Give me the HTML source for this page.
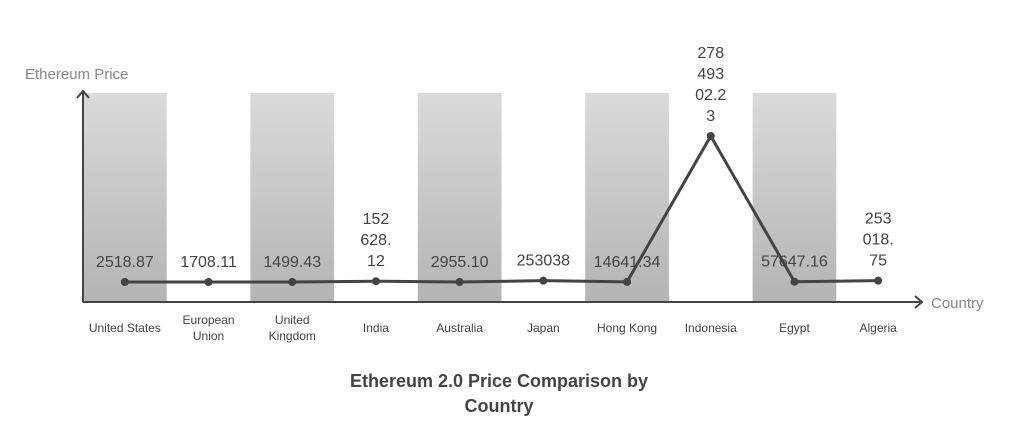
<!DOCTYPE html>
<html><head><meta charset="utf-8"><style>
body{margin:0;background:#fff;}
svg{display:block;font-family:"Liberation Sans",sans-serif;}
</style></head><body>
<svg id="chart" width="1024" height="428" viewBox="0 0 1024 428">
<defs><linearGradient id="bandGrad" x1="0" y1="0" x2="0" y2="1"><stop offset="0" stop-color="#dadada"/><stop offset="1" stop-color="#b4b4b4"/></linearGradient></defs>
<g id="bands"></g>
<line x1="83" y1="302" x2="83" y2="91" stroke="#444" stroke-width="2"/>
<polyline points="77,98 83,91 89,98" fill="none" stroke="#444" stroke-width="2"/>
<line x1="83" y1="302" x2="922" y2="302" stroke="#444" stroke-width="2"/>
<polyline points="915,296 922,302 915,308" fill="none" stroke="#444" stroke-width="2"/>
<text x="25" y="79" font-size="15" fill="#888">Ethereum Price</text>
<text x="931" y="308" font-size="15" fill="#888">Country</text>
<g id="marks"></g>
<text x="499" y="387" font-size="18" font-weight="bold" fill="#444" text-anchor="middle"><tspan x="499">Ethereum 2.0 Price Comparison by</tspan><tspan x="499" dy="25">Country</tspan></text>
</svg>
<script>
const categories=[["United States"],["European","Union"],["United","Kingdom"],["India"],["Australia"],["Japan"],["Hong Kong"],["Indonesia"],["Egypt"],["Algeria"]];
const values=[2518.87,1708.11,1499.43,152628.12,2955.10,253038,14641.34,27849302.23,57647.16,253018.75];
const valueLabels=["2518.87","1708.11","1499.43","152628.12","2955.10","253038","14641.34","27849302.23","57647.16","253018.75"];
const NS="http://www.w3.org/2000/svg";
const x0=83,step=83.7,yMax=27849302.23;
function xPos(i){return x0+step*(i+0.5);}
function yPos(v){return 282-v/yMax*146;}
const bands=document.getElementById('bands'),marks=document.getElementById('marks');
function mk(t,a,p){const e=document.createElementNS(NS,t);for(const k in a)e.setAttribute(k,a[k]);p.appendChild(e);return e;}
categories.forEach((c,i)=>{
 if(i%2===0){const r=mk('rect',{x:x0+step*i,y:93,width:step,height:209,fill:'url(#bandGrad)'},bands);
  
  }
 const t=mk('text',{x:xPos(i),'font-size':12,fill:'#444','text-anchor':'middle'},marks);
 
 
 const y0=c.length>1?324:332;
 c.forEach((ln,j)=>{const s=mk('tspan',{x:xPos(i),y:y0+j*16},t);s.textContent=ln;});
});
const pl=mk('polyline',{points:values.map((v,i)=>xPos(i)+','+yPos(v)).join(' '),fill:'none',stroke:'#444','stroke-width':3,'stroke-linejoin':'round'},marks);


function wrap(s){const w=ch=>ch==='.'?4.45:8.9;const out=[];let cur='',cw=0;
 if(s.length<=8)return[s];
 for(const ch of s){if(cw+w(ch)>33){out.push(cur);cur='';cw=0;}cur+=ch;cw+=w(ch);}if(cur)out.push(cur);return out;}
values.forEach((v,i)=>{
 const c=mk('circle',{cx:xPos(i),cy:yPos(v),r:4,fill:'#444'},marks);
 
 
 const lines=wrap(valueLabels[i]);
 const base=yPos(v)-15;
 const t=mk('text',{x:xPos(i),'font-size':16,fill:'#444','text-anchor':'middle'},marks);
 
 
 lines.forEach((ln,j)=>{const s=mk('tspan',{x:xPos(i),y:base-(lines.length-1-j)*21},t);s.textContent=ln;});
});
</script>
</body></html>
